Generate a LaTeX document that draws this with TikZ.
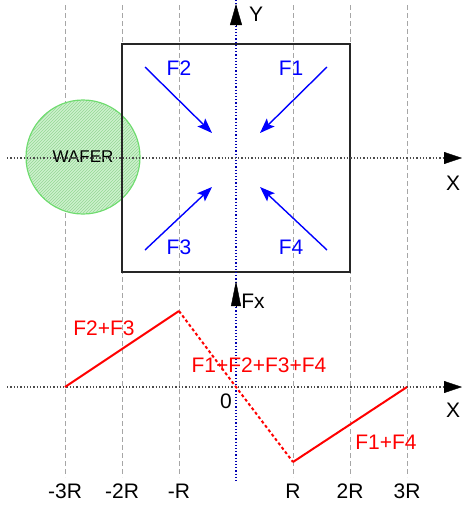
\documentclass[tikz,border=0pt]{standalone}
\usepackage{fontspec}
\setmainfont{Liberation Sans}
\usetikzlibrary{arrows.meta,patterns}
\definecolor{wafergreen}{RGB}{110,220,110}
\definecolor{waferfill}{RGB}{205,242,205}
\definecolor{waferhatch}{RGB}{150,215,150}
\begin{document}
\begin{tikzpicture}[x=1pt,y=-1pt,
  grid/.style={draw=gray!70,dashed,dash pattern=on 5pt off 3pt,line width=0.8pt},
  axisline/.style={draw=black!70,dotted,line width=1.3pt},
  axishead/.style={-{Triangle[length=18pt,width=12pt]},black},
  force/.style={draw=blue,line width=1.4pt,-{Stealth[length=15pt,width=11pt,inset=3pt]}},
  lbl/.style={font=\fontsize{21}{21}\selectfont,inner sep=0pt},
  flbl/.style={lbl,text=blue},
  rlbl/.style={lbl,text=red},
  curve/.style={draw=red,line width=2pt},
  curved/.style={draw=red,line width=2pt,dash pattern=on 3pt off 2.5pt}
]
\useasboundingbox (0,0) rectangle (462,506);
% grid lines
\foreach \x in {65,122,179,293,350,407}{\draw[grid] (\x,5) -- (\x,477);}
% wafer
\node[circle,minimum size=114pt,draw=wafergreen,line width=1.2pt,fill=waferfill,inner sep=0pt] (wafc) at (83,157) {};
\fill[pattern=north east lines,pattern color=waferhatch] (83,157) circle (56.4);
\node[font=\fontsize{17}{17}\selectfont,inner sep=0pt] (wafer) at (83,157) {WAFER};
% box
\draw[line width=1.8pt,black!85] (122,44) rectangle (350,272);
% blue vertical axis
\draw[blue!70!black,dotted,line width=1.2pt] (236,0) -- (236,482);
% upper x axis
\coordinate (ux0) at (7,158);
\coordinate (ux1) at (444,158);
\coordinate (ux2) at (462,158);
\draw[axisline] (ux0) -- (ux1);
\draw[axishead] (ux1) -- (ux2);
\node[lbl] (lX1) at (453,183) {X};
% Y arrow
\coordinate (ya0) at (236,26);
\coordinate (ya1) at (236,4);
\draw[black,-{Triangle[length=21pt,width=12pt]}] (ya0) -- (ya1);
\node[lbl] (lY) at (256,14) {Y};
% lower x axis
\coordinate (lx0) at (7,387);
\coordinate (lx1) at (444,387);
\coordinate (lx2) at (462,387);
\draw[axisline] (lx0) -- (lx1);
\draw[axishead] (lx1) -- (lx2);
\node[lbl] (lX2) at (453,410) {X};
% Fx arrow
\coordinate (fa0) at (236,307);
\coordinate (fa1) at (236,281);
\draw[black,-{Triangle[length=25pt,width=10pt]}] (fa0) -- (fa1);
\node[lbl] (lFx) at (253,301) {Fx};
% forces
\coordinate (f2s) at (145,67); \coordinate (f2e) at (212,133);
\coordinate (f1s) at (327,67); \coordinate (f1e) at (260,133);
\coordinate (f3s) at (145,250); \coordinate (f3e) at (212,187);
\coordinate (f4s) at (327,250); \coordinate (f4e) at (260,187);
\draw[force] (f2s) -- (f2e);
\draw[force] (f1s) -- (f1e);
\draw[force] (f3s) -- (f3e);
\draw[force] (f4s) -- (f4e);
\node[flbl] (lF2) at (179,68) {F2};
\node[flbl] (lF1) at (291,68) {F1};
\node[flbl] (lF3) at (179,247) {F3};
\node[flbl] (lF4) at (291,247) {F4};
% red graph
\coordinate (pA) at (65,387);
\coordinate (pB) at (179,311);
\coordinate (pO) at (236,387);
\coordinate (pC) at (293,462);
\coordinate (pD) at (407,387);
\draw[curve] (pA) -- (pB);
\draw[curved] (pB) -- (pO) -- (pC);
\draw[curve] (pC) -- (pD);
\node[rlbl] (lF23) at (104,328) {F2+F3};
\node[rlbl] (lFall) at (259,365) {F1+F2+F3+F4};
\node[rlbl] (lF14) at (386,442) {F1+F4};
\node[lbl] (l0) at (226,401) {0};
% bottom labels
\node[lbl] (lm3) at (65,491) {-3R};
\node[lbl] (lm2) at (122,491) {-2R};
\node[lbl] (lm1) at (179,491) {-R};
\node[lbl] (lp1) at (293,491) {R};
\node[lbl] (lp2) at (350,491) {2R};
\node[lbl] (lp3) at (407,491) {3R};
\end{tikzpicture}
\end{document}
